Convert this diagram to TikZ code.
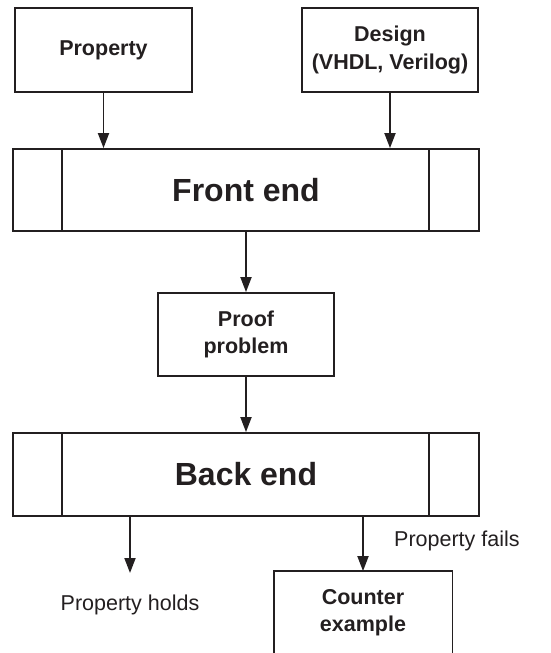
\documentclass[tikz,border=0pt]{standalone}
\usepackage{fontspec}
\setmainfont{Liberation Sans}
\usetikzlibrary{arrows.meta}
\definecolor{ink}{RGB}{35,31,32}
\begin{document}
\begin{tikzpicture}[x=1pt,y=-1pt,
  box/.style={draw=ink, line width=1.8pt, text=ink, align=center, inner sep=0pt,
    font=\bfseries\fontsize{21.5}{27.5}\selectfont},
  stage/.style={box, minimum width=466pt, minimum height=82pt,
    font=\bfseries\fontsize{32}{36}\selectfont},
  label/.style={text=ink, inner sep=0pt, font=\fontsize{21.5}{26}\selectfont},
  arr/.style={draw=ink, line width=1.8pt, -{Triangle[length=15pt,width=11pt]}},
  divider/.style={draw=ink, line width=1.8pt}
]
\useasboundingbox (0,0) rectangle (551,653);

% inputs
\node[box, minimum width=177pt, minimum height=84pt] (prop) at (103.5,50) {Property};
\node[box, minimum width=176pt, minimum height=84pt] (design) at (390,50) {Design\\(VHDL, Verilog)};

% front end stage
\node[stage] (fe) at (246,190) {Front end};
\draw[divider] ([xshift=50pt]fe.north west) -- ([xshift=50pt]fe.south west);
\draw[divider] ([xshift=-51pt]fe.north east) -- ([xshift=-51pt]fe.south east);

% intermediate proof problem
\node[box, minimum width=176pt, minimum height=83pt] (proof) at (246,334.5) {Proof\\problem};

% back end stage
\node[stage, minimum height=83pt] (be) at (246,474.5) {Back end};
\draw[divider] ([xshift=50pt]be.north west) -- ([xshift=50pt]be.south west);
\draw[divider] ([xshift=-51pt]be.north east) -- ([xshift=-51pt]be.south east);

% results
\coordinate (holds) at (130,573);
\node[label] (holdstext) at (130,605) {Property holds};
\node[box, draw=none, minimum width=177pt, minimum height=81pt] (cex) at (363,612.5) {Counter\\example};
\draw[divider] (cex.south west) -- (cex.north west) -- (cex.north east) -- (cex.south east);
\node[label, anchor=west] (failstext) at (394,541) {Property fails};

% connectors
\draw[arr] (prop.south) -- (prop.south |- fe.north);
\draw[arr] (design.south) -- (design.south |- fe.north);
\draw[arr] (fe.south) -- (proof.north);
\draw[arr] (proof.south) -- (be.north);
\draw[arr] (holds |- be.south) -- (holds);
\draw[arr] (cex.north |- be.south) -- (cex.north);
\end{tikzpicture}
\end{document}
